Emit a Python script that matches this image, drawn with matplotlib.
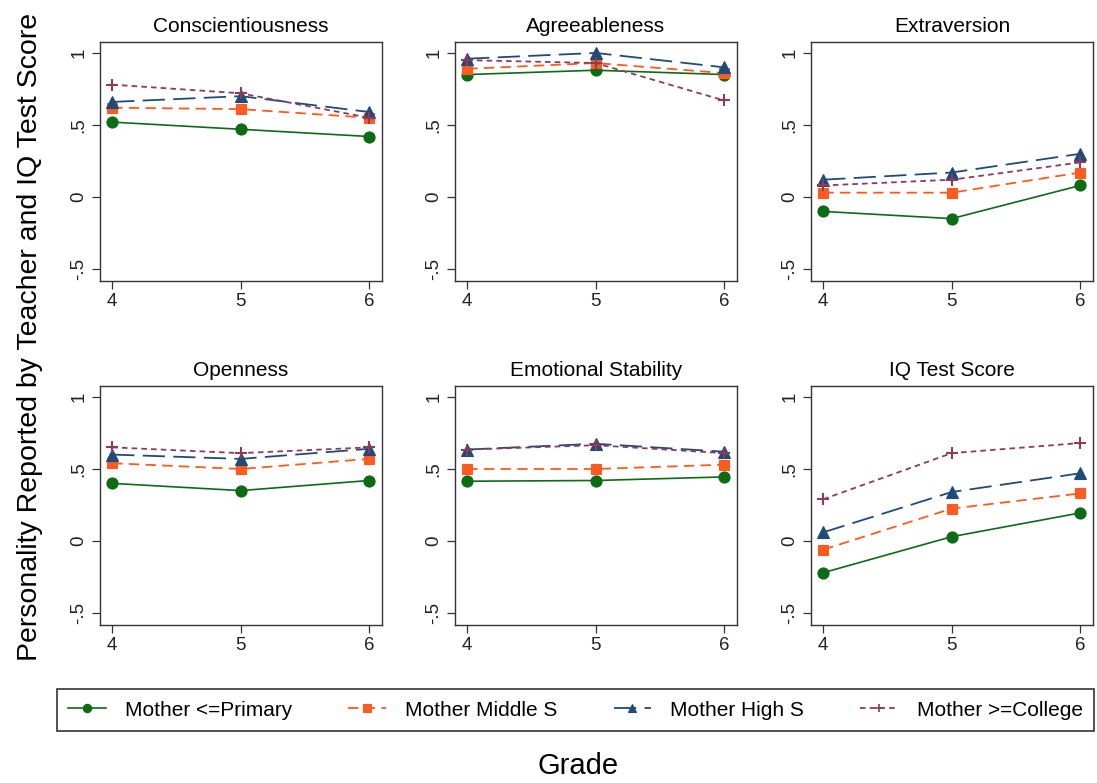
import matplotlib
matplotlib.use("Agg")
import matplotlib.pyplot as plt
from matplotlib.lines import Line2D

plt.rcParams["font.family"] = ["Liberation Sans", "DejaVu Sans"]
plt.rcParams["lines.scale_dashes"] = False

grades = [4, 5, 6]
panels = ["Conscientiousness", "Agreeableness", "Extraversion",
          "Openness", "Emotional Stability", "IQ Test Score"]
groups = ["Mother <=Primary", "Mother Middle S", "Mother High S", "Mother >=College"]

# mean scores per panel, one list per mother-education group (grade 4, 5, 6)
primary = [
    [0.52, 0.47, 0.42],
    [0.85, 0.88, 0.85],
    [-0.10, -0.15, 0.08],
    [0.40, 0.35, 0.42],
    [0.415, 0.42, 0.445],
    [-0.22, 0.03, 0.195],
]
middle = [
    [0.62, 0.61, 0.55],
    [0.89, 0.93, 0.86],
    [0.03, 0.03, 0.17],
    [0.54, 0.50, 0.57],
    [0.50, 0.50, 0.53],
    [-0.06, 0.225, 0.33],
]
high = [
    [0.66, 0.70, 0.59],
    [0.96, 1.00, 0.90],
    [0.12, 0.17, 0.30],
    [0.60, 0.57, 0.64],
    [0.635, 0.675, 0.62],
    [0.06, 0.34, 0.47],
]
college = [
    [0.78, 0.72, 0.55],
    [0.95, 0.93, 0.67],
    [0.08, 0.12, 0.24],
    [0.65, 0.61, 0.65],
    [0.635, 0.665, 0.61],
    [0.29, 0.61, 0.68],
]
series = [primary, middle, high, college]

colors = ["#0d6b16", "#ff5a1f", "#1f4b78", "#8e3a5c"]
markers = ["o", "s", "^", "+"]
msizes = [8, 7.5, 8, 8]
dashes = ["-", (0, (7.5, 4.5)), (0, (16, 6)), (0, (4, 3))]
lwidths = [1.2, 1.3, 1.3, 1.3]

W, H = 1097, 783
fig = plt.figure(figsize=(W / 100, H / 100), dpi=100)

lefts = [100, 455, 811]
tops = [42, 386]
aw, ah = 282, 239

for i, name in enumerate(panels):
    r, c = divmod(i, 3)
    ax = fig.add_axes([lefts[c] / W, 1 - (tops[r] + ah) / H, aw / W, ah / H])
    for s, vals in enumerate(series):
        ax.plot(grades, vals[i], color=colors[s], marker=markers[s],
                markersize=msizes[s], linestyle=dashes[s], linewidth=lwidths[s],
                markeredgewidth=1.5 if markers[s] == "+" else 0.8)
    ax.set_xlim(3.905, 6.1)
    ax.set_ylim(-0.583, 1.076)
    ax.set_xticks(grades)
    ax.set_yticks([-0.5, 0, 0.5, 1])
    ax.set_yticklabels(["-.5", "0", ".5", "1"], rotation=90, va="center")
    ax.tick_params(direction="out", length=6, width=0.9, labelsize=13.5,
                   color="#333333", labelcolor="#222222", pad=3)
    ax.set_title(name, fontsize=15, pad=7)
    for sp in ax.spines.values():
        sp.set_color("#333333")
        sp.set_linewidth(1.0)

handles = [
    Line2D([], [], color=colors[s], marker=markers[s], markersize=msizes[s] * 0.75,
           linestyle=dashes[s], linewidth=lwidths[s],
           markeredgewidth=1.2 if markers[s] == "+" else 0.8)
    for s in range(4)
]
leg = fig.legend(handles, groups, ncol=4, mode="expand", loc="center",
                 bbox_to_anchor=(57 / W, 1 - 735 / H, 1037 / W, 50 / H),
                 fontsize=15, handlelength=1.8, handletextpad=0.9,
                 fancybox=False, framealpha=1, edgecolor="#333333",
                 borderpad=0.55, borderaxespad=0.0)
leg.get_frame().set_linewidth(1.2)

fig.text(578 / W, 1 - 766 / H, "Grade", fontsize=21, ha="center", va="center")
fig.text(30 / W, 1 - 337 / H, "Personality Reported by Teacher and IQ Test Score",
         fontsize=20.5, rotation=90, ha="center", va="center")

fig.savefig("out.png", dpi=100)
